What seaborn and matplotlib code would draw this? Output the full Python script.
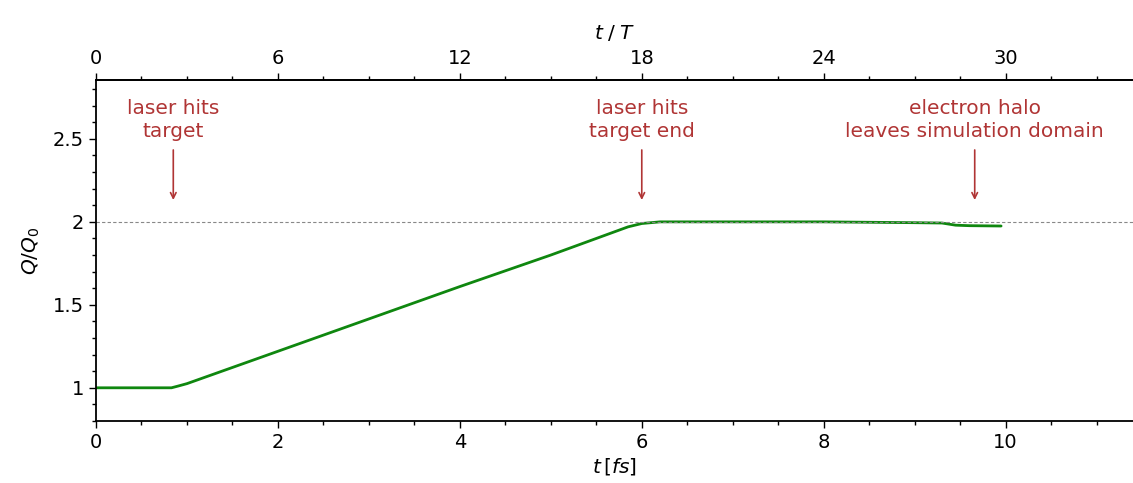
import numpy as np
import matplotlib
matplotlib.use('Agg')
import matplotlib.pyplot as plt
from matplotlib.ticker import MultipleLocator, FixedLocator, FormatStrFormatter
import pandas as pd
import seaborn as sns

# charge ratio over time
t_fs = [0, 0.83, 0.9, 1.0, 2.0, 3.0, 4.0, 5.0, 5.85, 6.0, 6.2, 7.0, 8.0, 9.0, 9.3, 9.45, 9.6, 9.95]
q_ratio = [1.0, 1.0, 1.01, 1.025, 1.22, 1.415, 1.61, 1.80, 1.97, 1.99, 2.0, 2.0, 2.0, 1.995, 1.993, 1.98, 1.977, 1.975]

# events marked with arrows
event_t = [0.85, 6.0, 9.66]
event_labels = ['laser hits\ntarget', 'laser hits\ntarget end', 'electron halo\nleaves simulation domain']

periods_per_fs = 3.0  # t/T = 3 * t[fs]
top_ticks = [0, 6, 12, 18, 24, 30]

sns.set_style('ticks')
plt.rcParams['font.family'] = ['DejaVu Sans']
plt.rcParams['mathtext.fontset'] = 'dejavusans'
plt.rcParams['text.color'] = 'black'
plt.rcParams['axes.labelcolor'] = 'black'
plt.rcParams['xtick.color'] = 'black'
plt.rcParams['ytick.color'] = 'black'
plt.rcParams['axes.edgecolor'] = 'black'

df = pd.DataFrame({'t': t_fs, 'q': q_ratio})

fig = plt.figure(figsize=(11.33, 4.83), dpi=100)
ax = fig.add_axes([0.0847, 0.1284, 0.9153, 0.706])

sns.lineplot(data=df, x='t', y='q', color='#0f870f', linewidth=2, ax=ax)
ax.axhline(2.0, color='#888888', linestyle='--', linewidth=0.8, dashes=(3, 2))

red = '#b03535'
for x, lab in zip(event_t, event_labels):
    ax.annotate('', xy=(x, 2.115), xytext=(x, 2.45),
                arrowprops=dict(arrowstyle='->', color=red, lw=1.2))
    ax.text(x, 2.49, lab, ha='center', va='bottom', color=red, fontsize=14.5, linespacing=1.25)

ax.set_xlim(0, 11.4)
ax.set_ylim(0.8, 2.855)
ax.xaxis.set_major_locator(MultipleLocator(2))
ax.xaxis.set_minor_locator(MultipleLocator(0.5))
ax.yaxis.set_major_locator(MultipleLocator(0.5))
ax.yaxis.set_minor_locator(MultipleLocator(0.1))
ax.yaxis.set_major_formatter(FormatStrFormatter('%g'))
ax.set_xlabel(r'$t\,[fs]$', fontsize=14.5, labelpad=3)
ax.set_ylabel(r'$Q/Q_0$', fontsize=14.5, labelpad=8)
ax.tick_params(which='major', length=5, width=1, labelsize=14, direction='out')
ax.tick_params(which='minor', length=3, width=1, direction='out')

ax.spines['right'].set_visible(False)
for s in ['left', 'bottom', 'top']:
    ax.spines[s].set_linewidth(1.3)

top = ax.secondary_xaxis('top', functions=(lambda x: x * periods_per_fs, lambda x: x / periods_per_fs))
top.xaxis.set_major_locator(FixedLocator(top_ticks))
top.xaxis.set_minor_locator(MultipleLocator(1.5))
top.tick_params(which='major', length=5, width=1, labelsize=14, direction='out')
top.tick_params(which='minor', length=3, width=1, direction='out')
top.set_xlabel(r'$t\;/\;T$', fontsize=14.5, labelpad=7)
top.spines['top'].set_linewidth(1.3)

fig.savefig('out.png', dpi=100)
